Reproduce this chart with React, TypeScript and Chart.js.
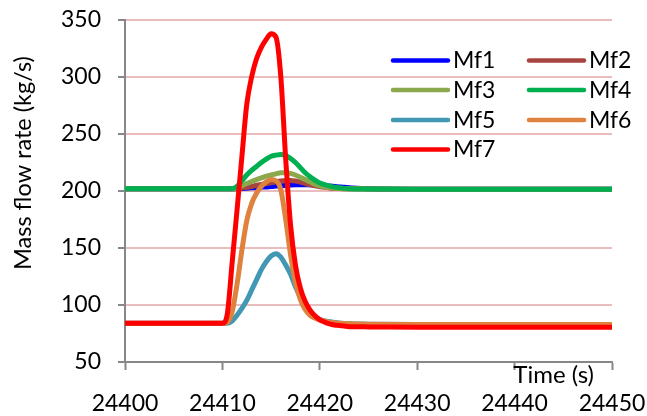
import { useEffect, useRef } from "react";
import { Chart, registerables } from "chart.js";

Chart.register(...registerables);

// ---- data ----
const times = [
  24400, 24410, 24410.5, 24411, 24411.5, 24412, 24412.5, 24413, 24413.5, 24414,
  24414.5, 24415, 24415.5, 24416, 24416.5, 24417, 24417.5, 24418, 24418.5, 24419,
  24419.5, 24420, 24420.5, 24421, 24421.5, 24422, 24422.5, 24423, 24425, 24430, 24450,
];

const seriesNames = ["Mf1", "Mf2", "Mf3", "Mf4", "Mf5", "Mf6", "Mf7"];

const mf1 = [202, 202, 202, 202, 202, 202.2, 202.5, 202.8, 203, 203.3, 203.6, 204, 204.3, 204.6, 204.9, 205.2, 205.4, 205.5, 205.5, 205.4, 205.2, 205, 204.7, 204.4, 204, 203.6, 203.2, 202.9, 202, 201.6, 201.6];
const mf2 = [202, 202, 202, 202, 202, 202.5, 203.3, 204, 205, 205.8, 206.5, 207.2, 208, 208.7, 209.2, 209.3, 208.8, 207.8, 206.6, 205.5, 204.5, 203.8, 203.2, 202.7, 202.4, 202.2, 202, 202, 201.8, 201.5, 201.5];
const mf3 = [202, 202, 202, 202, 202.5, 204.5, 206.5, 208.3, 210, 211.5, 213, 214, 215, 216, 216, 215.5, 214, 212, 210, 208, 206, 204.5, 203.5, 203, 202.5, 202.2, 202, 202, 201.8, 201.5, 201.5];
const mf4 = [202, 202, 202, 202, 204, 209, 214, 218, 221.5, 225, 228, 230.5, 231.5, 232, 231, 228.5, 225, 220.5, 216, 212.5, 209.5, 207, 205.5, 204.3, 203.4, 202.8, 202.3, 202, 201.8, 201.5, 201.5];
const mf5 = [84, 84, 84, 86, 91, 97, 104, 113, 122, 131, 138, 143, 145, 142, 135, 127, 116, 107, 99, 93, 89.5, 87.5, 86, 85.3, 84.7, 84.2, 83.8, 83.5, 83.2, 83, 83];
const mf6 = [84, 84, 85, 94, 118, 148, 174, 189, 198, 204, 208, 210, 209, 201, 175, 144, 120, 105, 96, 91, 88.5, 87, 86, 85, 84.5, 84, 83.7, 83.5, 83.2, 83, 83];
const mf7 = [84, 84, 92, 137, 183, 230, 276, 300, 316, 326, 333, 338, 335, 300, 228, 170, 135, 115, 103, 95.5, 90.5, 87, 85, 83.5, 82.5, 82, 81.5, 81, 80.8, 80.5, 80.5];

const seriesValues = [mf1, mf2, mf3, mf4, mf5, mf6, mf7];

const xTicks = [24400, 24410, 24420, 24430, 24440, 24450];
const yTicks = [50, 100, 150, 200, 250, 300, 350];

const yTitle = "Mass flow rate (kg/s)";
const xTitle = "Time (s)";

// ---- styles ----
const seriesColors = ["#0000FF", "#A8443F", "#8BA84C", "#00B050", "#4298B4", "#DE823E", "#FF0000"];
const FONT = "Lato, 'Open Sans', sans-serif";
const AXIS_GRAY = "#878787";
const GRID_PINK = "#E9BDBD";

const titlesPlugin = {
  id: "customTitles",
  afterDraw(chart: any) {
    const ctx = chart.ctx;
    ctx.save();
    ctx.fillStyle = "#000";
    ctx.font = `24px ${FONT}`;
    ctx.textAlign = "right";
    ctx.textBaseline = "alphabetic";
    ctx.fillText(xTitle, 594, 383);
    ctx.translate(23, 163);
    ctx.rotate(-Math.PI / 2);
    ctx.textAlign = "center";
    ctx.textBaseline = "middle";
    ctx.font = `23.5px ${FONT}`;
    ctx.fillText(yTitle, 0, 0);
    ctx.restore();
  },
};

const legendPlugin = {
  id: "gridLegend",
  afterDraw(chart: any) {
    const ctx = chart.ctx;
    const cols = [393, 529];
    const rows = [60.5, 90, 120, 149.5];
    ctx.save();
    ctx.font = `23px ${FONT}`;
    ctx.textAlign = "left";
    ctx.textBaseline = "middle";
    chart.data.datasets.forEach((ds: any, i: number) => {
      const x = cols[i % 2];
      const y = rows[Math.floor(i / 2)];
      ctx.strokeStyle = ds.borderColor;
      ctx.lineWidth = 4.5;
      ctx.lineCap = "round";
      ctx.beginPath();
      ctx.moveTo(x, y);
      ctx.lineTo(x + 55, y);
      ctx.stroke();
      ctx.fillStyle = "#000";
      ctx.fillText(ds.label, x + 60, y + 0.5);
    });
    ctx.restore();
  },
};

export default function App() {
  const canvasRef = useRef<HTMLCanvasElement | null>(null);

  useEffect(() => {
    document.body.style.margin = "0";
    const canvas = canvasRef.current;
    if (!canvas) return;
    const chart = new Chart(canvas, {
      type: "line",
      data: {
        datasets: seriesNames.map((name, i) => ({
          label: name,
          data: times.map((t, j) => ({ x: t, y: seriesValues[i][j] })),
          borderColor: seriesColors[i],
          backgroundColor: seriesColors[i],
          borderWidth: 5,
          pointRadius: 0,
          fill: false,
          cubicInterpolationMode: "monotone" as const,
          borderJoinStyle: "round" as const,
          borderCapStyle: "round" as const,
          order: seriesNames.length - i,
        })),
      },
      options: {
        responsive: false,
        animation: false,
        devicePixelRatio: 1,
        layout: { padding: { top: 20, right: 35, left: 0, bottom: 0 } },
        plugins: {
          legend: { display: false },
          tooltip: { enabled: false },
          title: { display: false },
        },
        scales: {
          x: {
            type: "linear",
            min: xTicks[0],
            max: xTicks[xTicks.length - 1],
            afterBuildTicks: (scale: any) => {
              scale.ticks = xTicks.map((v) => ({ value: v }));
            },
            afterFit: (scale: any) => {
              scale.height = 54;
              scale.paddingLeft = 0;
              scale.paddingRight = 0;
            },
            ticks: {
              color: "#000",
              font: { family: FONT, size: 23 },
              padding: 20,
              maxRotation: 0,
              autoSkip: false,
              callback: (v: any) => String(v),
            },
            grid: {
              drawOnChartArea: false,
              tickLength: 8,
              tickColor: AXIS_GRAY,
              tickWidth: 2,
            },
            border: { color: AXIS_GRAY, width: 2 },
          },
          y: {
            type: "linear",
            min: yTicks[0],
            max: yTicks[yTicks.length - 1],
            afterBuildTicks: (scale: any) => {
              scale.ticks = yTicks.map((v) => ({ value: v }));
            },
            afterFit: (scale: any) => {
              scale.width = 125;
              scale.paddingTop = 0;
              scale.paddingBottom = 0;
            },
            ticks: {
              color: "#000",
              font: { family: FONT, size: 23 },
              padding: 17,
              autoSkip: false,
              callback: (v: any) => String(v),
            },
            grid: {
              color: (c: any) => (c.tick && c.tick.value === yTicks[0] ? "rgba(0,0,0,0)" : GRID_PINK),
              lineWidth: 2,
              tickLength: 7,
              tickColor: AXIS_GRAY,
              tickWidth: 2,
            },
            border: { color: AXIS_GRAY, width: 2 },
          },
        },
      },
      plugins: [titlesPlugin, legendPlugin],
    });
    return () => chart.destroy();
  }, []);

  return (
    <div style={{ width: 647, height: 416 }}>
      <canvas ref={canvasRef} width={647} height={416} style={{ display: "block" }} />
    </div>
  );
}
